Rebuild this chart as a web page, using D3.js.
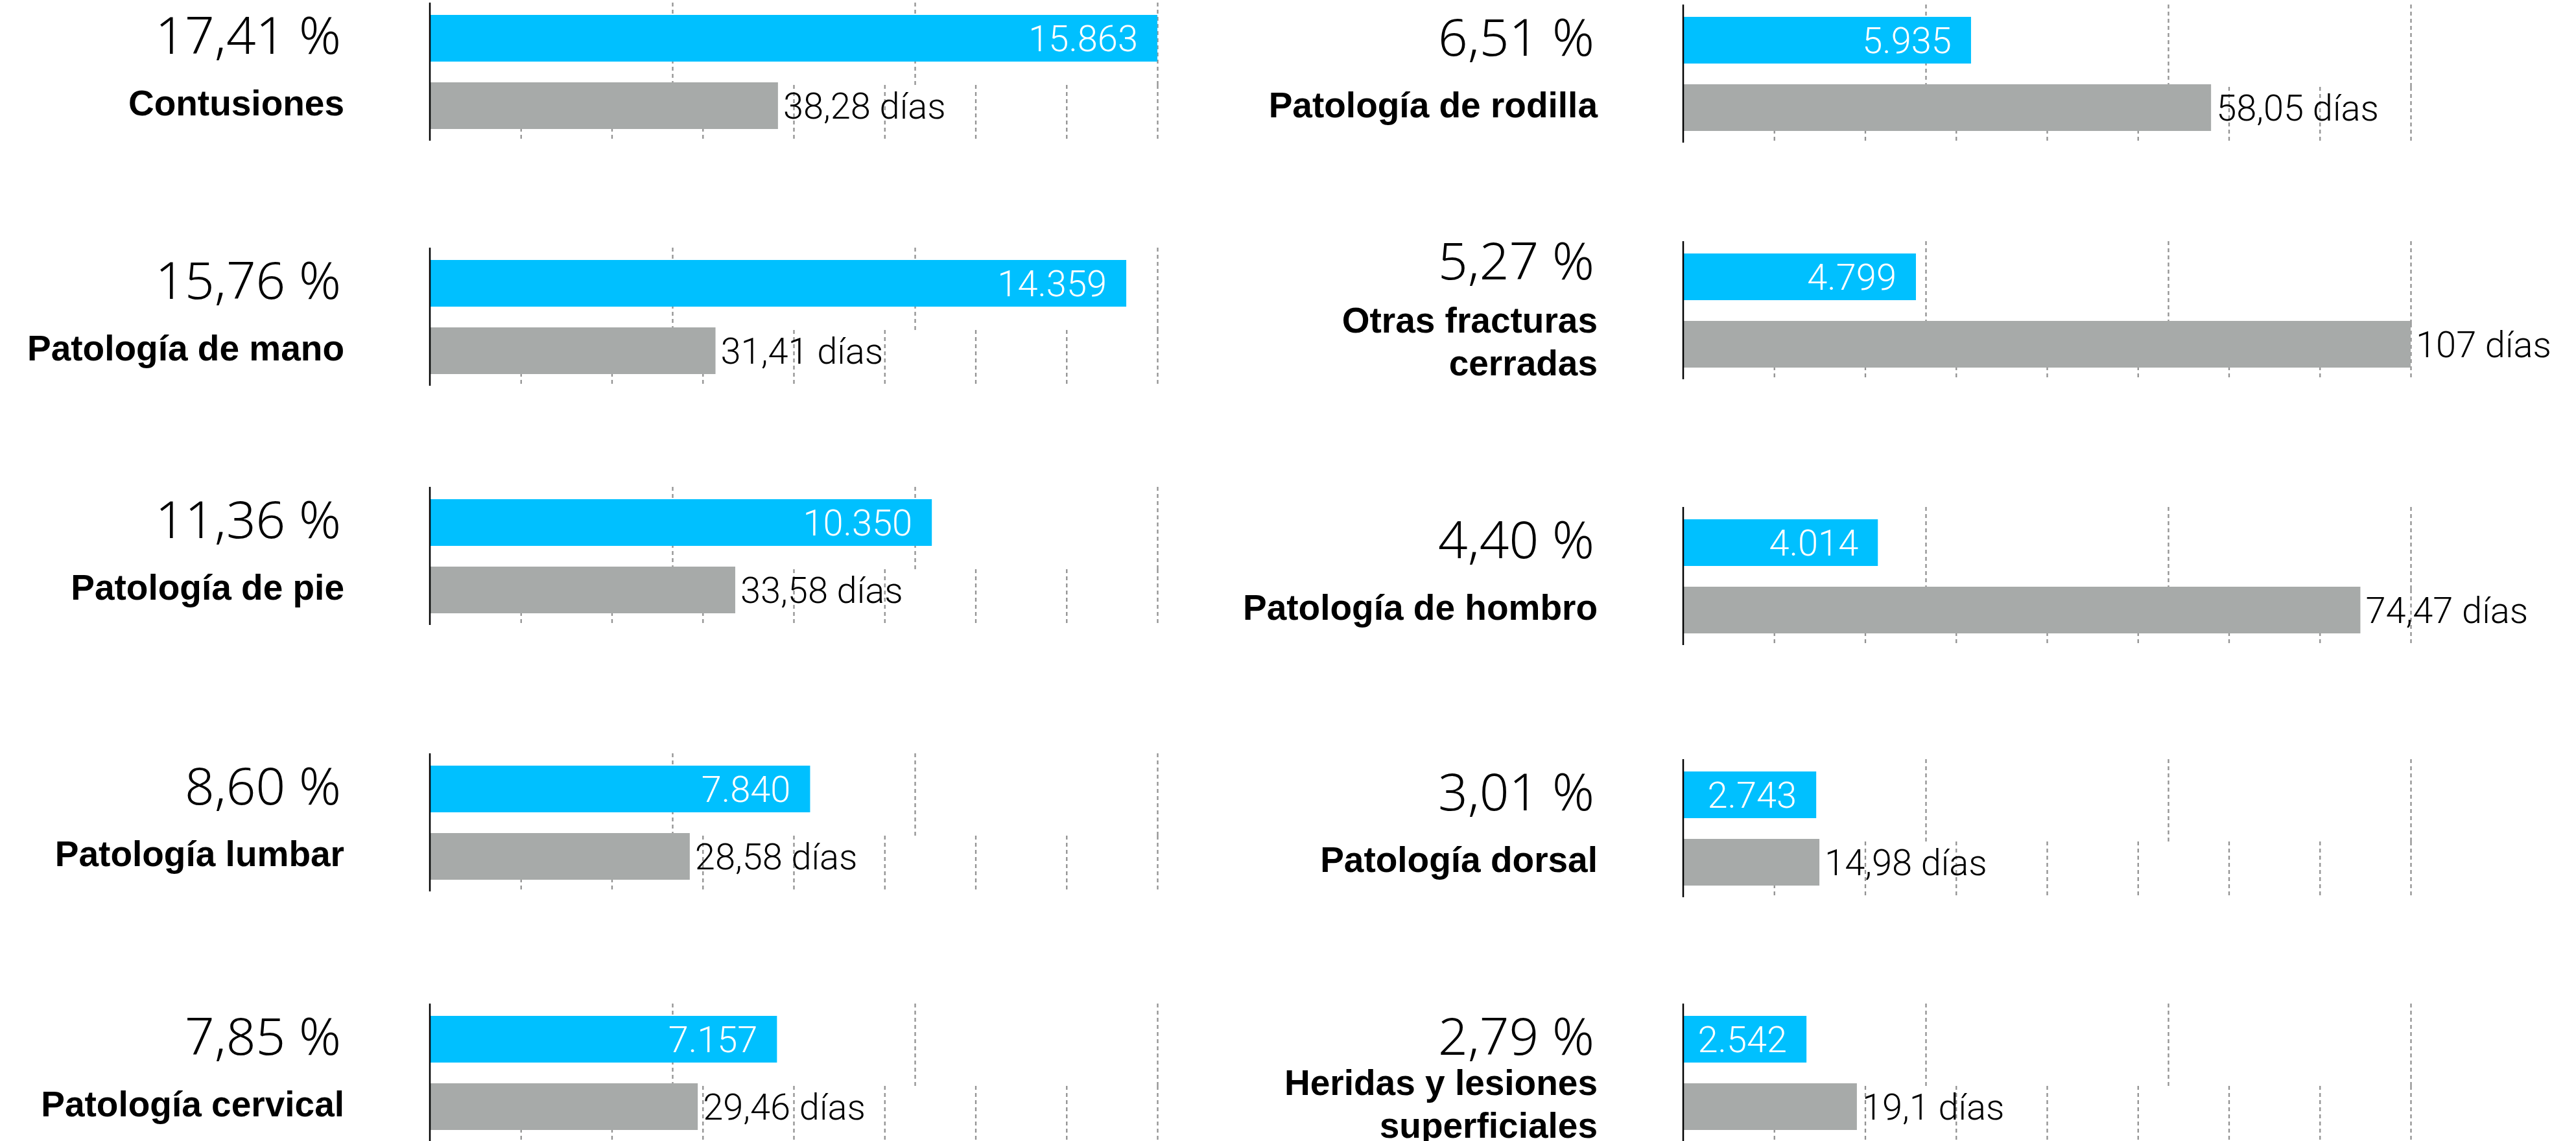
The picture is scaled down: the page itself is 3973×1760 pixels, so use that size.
<!DOCTYPE html>
<html>
<head>
<meta charset="utf-8">
<script src="https://cdn.jsdelivr.net/npm/d3@7"></script>
<style>
    html, body { margin: 0; padding: 0; background: #fff; }
    svg { display: block; }
    .grid line { stroke: #929292; stroke-width: 2.3; stroke-dasharray: 6 5; }
    .pct { font-family: 'Noto Sans', sans-serif; font-weight: 300; font-size: 80px; fill: #000; }
    .label { font-family: 'Liberation Sans', Arial, sans-serif; font-weight: 700; font-size: 55px; fill: #000; }
    .value { font-family: Roboto, sans-serif; font-weight: 300; font-size: 56px; }
</style>
</head>
<body>
<div id="chart"></div>
<script>
// Data
const categories = [
    ['Contusiones'],
    ['Patología de mano'],
    ['Patología de pie'],
    ['Patología lumbar'],
    ['Patología cervical'],
    ['Patología de rodilla'],
    ['Otras fracturas', 'cerradas'],
    ['Patología de hombro'],
    ['Patología dorsal'],
    ['Heridas y lesiones', 'superficiales']
]
const shares = [17.41, 15.76, 11.36, 8.60, 7.85, 6.51, 5.27, 4.40, 3.01, 2.79]
const cases = [15863, 14359, 10350, 7840, 7157, 5935, 4799, 4014, 2743, 2542]
const days = [38.28, 31.41, 33.58, 28.58, 29.46, 58.05, 107, 74.47, 14.98, 19.1]
const caseTicks = [5000, 10000, 15000]
const dayTicks = [10, 20, 30, 40, 50, 60, 70, 80]

// Presentation
const width = 3973
const height = 1760
const columnX = [663, 2596]
const rowTops = [[23, 401, 770, 1181, 1567], [26, 391, 801, 1190, 1567]]
const pctShift = [0, 0, 0, 0, 0, 0, -20, 0, 0, 0]
const barWidth = 1122
const barHeight = 72
const greyTop = 104
const axisTop = -19
const axisBottom = 194
const gridSplit = 108
const lineHeight = 66

const locale = d3.formatLocale({ decimal: ',', thousands: '.', grouping: [3], currency: ['', ''] })
const fmtPct = locale.format('.2f')
const fmtCases = locale.format(',d')
const fmtDays = locale.format('.2~f')

// Scale
const xCases = d3.scaleLinear().domain([0, 15000]).range([0, barWidth]).clamp(true)
const xDays = d3.scaleLinear().domain([0, 80]).range([0, barWidth]).clamp(true)

// SVG Node
const svg = d3.select('#chart')
    .append('svg')
    .attr('width', width)
    .attr('height', height)

const rows = categories.map((lines, i) => ({
    lines,
    share: shares[i],
    cases: cases[i],
    days: days[i],
    shift: pctShift[i],
    x: columnX[Math.floor(i / 5)],
    y: rowTops[Math.floor(i / 5)][i % 5]
}))

const panels = svg.selectAll('g.panel')
    .data(rows)
    .enter()
    .append('g')
    .attr('class', 'panel')
    .attr('transform', d => `translate(${d.x}, ${d.y})`)

// Grid
panels.append('g')
    .attr('class', 'grid')
    .attr('transform', `translate(0, ${axisTop})`)
    .call(d3.axisBottom(xCases).tickValues(caseTicks).tickSize(gridSplit - axisTop).tickFormat(''))
    .call(g => g.select('.domain').remove())

panels.append('g')
    .attr('class', 'grid')
    .attr('transform', `translate(0, ${gridSplit})`)
    .call(d3.axisBottom(xDays).tickValues(dayTicks).tickSize(axisBottom - gridSplit).tickFormat(''))
    .call(g => g.select('.domain').remove())

// Bars
panels.append('rect')
    .attr('class', 'cases')
    .attr('x', 0)
    .attr('y', 0)
    .attr('height', barHeight)
    .attr('width', d => xCases(d.cases))
    .style('fill', '#00c0ff')

panels.append('rect')
    .attr('class', 'days')
    .attr('x', 0)
    .attr('y', greyTop)
    .attr('height', barHeight)
    .attr('width', d => xDays(d.days))
    .style('fill', '#a7aaa9')

// Axis line
panels.append('line')
    .attr('y1', axisTop)
    .attr('y2', axisBottom)
    .style('stroke', '#000')
    .style('stroke-width', 2.5)

// Texts
panels.append('text')
    .attr('class', 'value')
    .attr('x', d => xCases(d.cases) - 30)
    .attr('y', barHeight / 2)
    .attr('dy', '0.36em')
    .attr('text-anchor', 'end')
    .style('fill', '#fff')
    .text(d => fmtCases(d.cases))

panels.append('text')
    .attr('class', 'value')
    .attr('x', d => xDays(d.days) + 8)
    .attr('y', greyTop + barHeight / 2)
    .attr('dy', '0.36em')
    .style('fill', '#000')
    .text(d => `${fmtDays(d.days)} días`)

panels.append('text')
    .attr('class', 'pct')
    .attr('x', -137)
    .attr('y', d => 60 + d.shift)
    .attr('text-anchor', 'end')
    .text(d => `${fmtPct(d.share)} %`)

panels.append('text')
    .attr('class', 'label')
    .attr('text-anchor', 'end')
    .each(function(d) {
        const first = 155 - (d.lines.length - 1) * lineHeight / 2
        d3.select(this)
            .selectAll('tspan')
            .data(d.lines)
            .enter()
            .append('tspan')
            .attr('x', -132)
            .attr('y', (_, k) => first + k * lineHeight)
            .text(line => line)
    })
</script>
</body>
</html>
